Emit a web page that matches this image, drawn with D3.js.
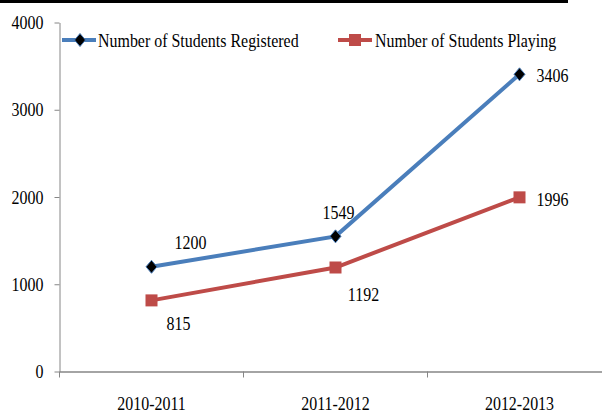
<!DOCTYPE html>
<html>
<head>
<meta charset="utf-8">
<script src="https://cdn.jsdelivr.net/npm/d3@7"></script>
<style>
  html, body { margin: 0; padding: 0; background: #fff; }
  svg { display: block; font-family: "Liberation Serif", "Times New Roman", serif; }
</style>
</head>
<body>
<svg id="chart" width="602" height="414"></svg>
<script>
const seasons    = ['2010-2011', '2011-2012', '2012-2013'];
const registered = [1200, 1549, 3406];
const playing    = [815, 1192, 1996];
const yTicks     = [0, 1000, 2000, 3000, 4000];
const seriesNames = ['Number of Students Registered', 'Number of Students Playing'];

const BLUE = '#4a7ebb';
const RED  = '#be4b48';
const AXIS = '#868686';
const FONT = 19;
const SQUEEZE = 0.84;   // the original text is narrow and tall

const svg = d3.select('#chart');

// narrow every text horizontally, keeping its anchor point
function condense(sel) {
    sel.each(function () {
        const t = d3.select(this);
        const x0 = parseFloat(t.attr('x')) || 0;
        t.attr('x', x0 / SQUEEZE)
         .attr('transform', `scale(${SQUEEZE},1)`)
         .attr('font-size', FONT)
         .attr('font-family', 'Liberation Serif')
         .attr('fill', '#000');
    });
}

// thick rule at the very top
svg.append('rect').attr('x', 0).attr('y', 0).attr('width', 568).attr('height', 3).attr('fill', '#000');

const x = d3.scaleBand().domain(seasons).range([59.5, 611.5]);
const y = d3.scaleLinear().domain([0, 4000]).range([371.5, 22.5]);
const cx = d => x(d) + x.bandwidth() / 2;

// ── Axes ──
const yAxis = svg.append('g')
    .attr('transform', 'translate(59.5,0)')
    .call(d3.axisLeft(y).tickValues(yTicks).tickSize(5).tickSizeOuter(0).tickPadding(11).tickFormat(d3.format('d')));
yAxis.select('.domain').attr('stroke', AXIS);
yAxis.selectAll('.tick line').attr('stroke', AXIS);
yAxis.selectAll('text').call(condense);

const xAxis = svg.append('g')
    .attr('transform', `translate(0,${y(0)})`)
    .call(d3.axisBottom(x).tickSize(0).tickSizeOuter(0).tickPadding(25));
xAxis.select('.domain').attr('stroke', AXIS).attr('stroke-width', 1.5);
xAxis.selectAll('text').call(condense);

// tick marks sit on the band boundaries
svg.append('g').selectAll('line')
    .data(seasons)
    .join('line')
    .attr('x1', d => x(d)).attr('x2', d => x(d))
    .attr('y1', y(0)).attr('y2', y(0) + 6)
    .attr('stroke', AXIS);

// ── Lines ──
const line = d3.line().x((d, i) => cx(seasons[i])).y(d => y(d));

svg.append('path').datum(registered)
    .attr('d', line).attr('fill', 'none').attr('stroke', BLUE).attr('stroke-width', 4);
svg.append('path').datum(playing)
    .attr('d', line).attr('fill', 'none').attr('stroke', RED).attr('stroke-width', 4);

// ── Markers ──
const diamond = 'M0,-6.5L5.5,0L0,6.5L-5.5,0Z';
svg.append('g').selectAll('path')
    .data(registered)
    .join('path')
    .attr('d', diamond)
    .attr('transform', (d, i) => `translate(${cx(seasons[i])},${y(d)})`)
    .attr('fill', '#000').attr('stroke', BLUE).attr('stroke-width', 1);

svg.append('g').selectAll('rect')
    .data(playing)
    .join('rect')
    .attr('x', (d, i) => cx(seasons[i]) - 6)
    .attr('y', d => y(d) - 6)
    .attr('width', 12).attr('height', 12)
    .attr('fill', RED);

// ── Data labels (offsets from each point) ──
const regOffsets  = [[39, -18, 'middle'], [3, -17, 'middle'], [17, 8, 'start']];
const playOffsets = [[27, 30, 'middle'], [28, 34, 'middle'], [17, 9, 'start']];

function addLabels(values, offsets) {
    svg.append('g').selectAll('text')
        .data(values)
        .join('text')
        .attr('x', (d, i) => cx(seasons[i]) + offsets[i][0])
        .attr('y', (d, i) => y(d) + offsets[i][1])
        .attr('text-anchor', (d, i) => offsets[i][2])
        .text(d => d)
        .call(condense);
}
addLabels(registered, regOffsets);
addLabels(playing, playOffsets);

// ── Legend ──
const legend = svg.append('g').attr('transform', 'translate(0,40)');
const l1 = legend.append('g').attr('transform', 'translate(62,0)');
l1.append('line').attr('x1', 0).attr('x2', 34).attr('stroke', BLUE).attr('stroke-width', 4);
l1.append('path').attr('d', diamond).attr('transform', 'translate(18,0)')
    .attr('fill', '#000').attr('stroke', BLUE).attr('stroke-width', 1);
l1.append('text').attr('x', 36).attr('y', 7).text(seriesNames[0]).call(condense);

const l2 = legend.append('g').attr('transform', 'translate(338,0)');
l2.append('line').attr('x1', 0).attr('x2', 34).attr('stroke', RED).attr('stroke-width', 4);
l2.append('rect').attr('x', 11).attr('y', -6).attr('width', 12).attr('height', 12).attr('fill', RED);
l2.append('text').attr('x', 37).attr('y', 7).text(seriesNames[1]).call(condense);
</script>
</body>
</html>
